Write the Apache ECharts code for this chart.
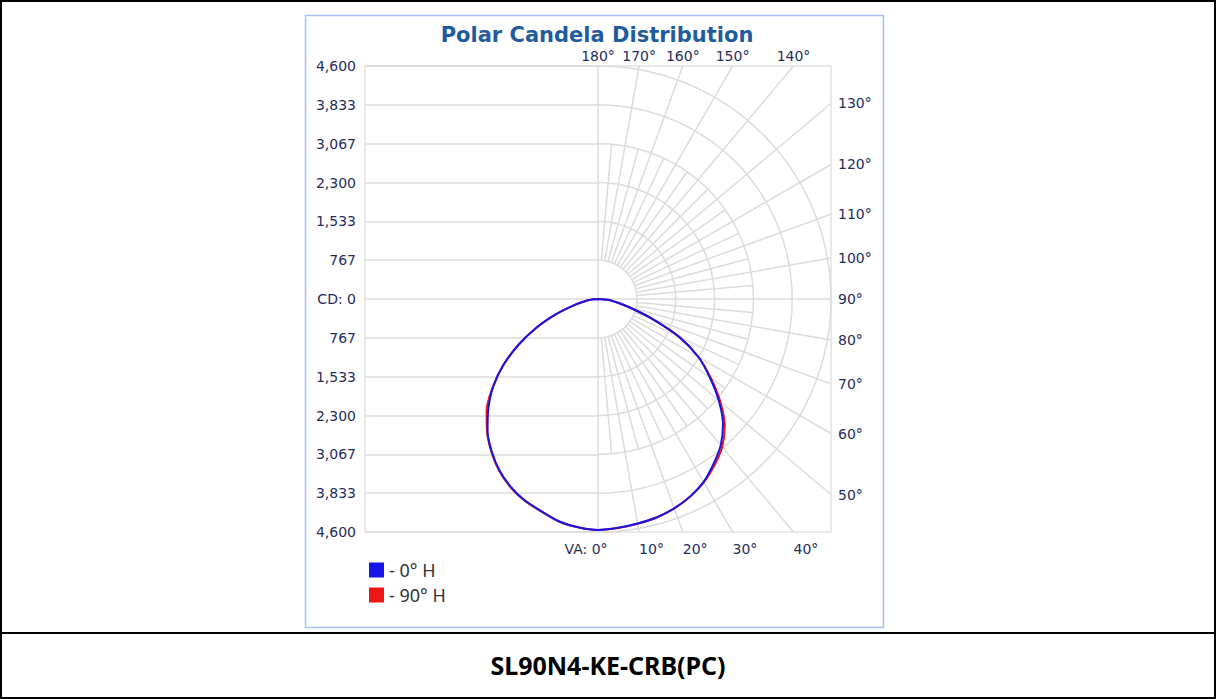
<!DOCTYPE html>
<html>
<head>
<meta charset="utf-8">
<title>Polar Candela Distribution</title>
<script src="https://cdn.jsdelivr.net/npm/echarts@6/dist/echarts.min.js"></script>
<style>
  html, body { margin: 0; padding: 0; background: #fff; }
  #frame { position: absolute; left: 0; top: 0; width: 1212px; height: 695px; border: 2px solid #000; }
  #sep { position: absolute; left: 0; top: 632px; width: 1216px; height: 2px; background: #000; }
  #footer { position: absolute; left: 0; top: 634px; width: 1216px; height: 63px;
            font: bold 25px "Noto Sans", sans-serif; line-height: 62px;
            text-align: center; color: #000; }
  #chart { position: absolute; left: 0; top: 0; width: 1216px; height: 632px; }
</style>
</head>
<body>
<div id="frame"></div>
<div id="sep"></div>
<div id="footer">SL90N4-KE-CRB(PC)</div>
<div id="chart"></div>
<script>
  // candela scale (left axis) and polar grid
  const cdMax = 4600;
  const cdTickLabels = ['4,600', '3,833', '3,067', '2,300', '1,533', '767', 'CD: 0',
                        '767', '1,533', '2,300', '3,067', '3,833', '4,600'];
  const ringValues = [767, 1533, 2300, 3067, 3833, 4600];
  const spokeAngles = [0, 5, 10, 15, 20, 25, 30, 35, 40, 45, 50, 55, 60, 65, 70, 75, 80, 85, 90,
                       95, 100, 105, 110, 115, 120, 125, 130, 135, 140, 145, 150, 155, 160, 165, 170, 175, 180];
  const topLabelAngles = [180, 170, 160, 150, 140];
  const rightLabelAngles = [130, 120, 110, 100, 90, 80, 70, 60, 50];
  const bottomLabelAngles = [10, 20, 30, 40];

  // vertical angles of the measured candela values
  const vAngles = [0, 5, 10, 15, 20, 25, 30, 35, 40, 45, 50, 55, 60, 65, 70, 75, 80, 85, 90];
  // 0° H plane (right) and its opposite plane (left)
  const cd0Right  = [4560, 4535, 4500, 4465, 4400, 4305, 4170, 3975, 3770, 3490, 3110, 2690, 2290, 1770, 1130, 650, 370, 220, 0];
  const cd0Left   = [4560, 4525, 4455, 4335, 4230, 4085, 3898, 3663, 3392, 3061, 2705, 2283, 1816, 1343, 890, 520, 280, 120, 0];
  // 90° H plane (right) and its opposite plane (left)
  const cd90Right = [4560, 4540, 4505, 4465, 4400, 4300, 4180, 4010, 3815, 3540, 3150, 2720, 2290, 1760, 1130, 650, 370, 220, 0];
  const cd90Left  = [4560, 4525, 4460, 4340, 4240, 4095, 3910, 3675, 3410, 3110, 2715, 2290, 1816, 1343, 890, 520, 280, 120, 0];

  const rad = Math.PI / 180;
  const labelColor = '#1f2d5c';
  const gridColor = '#dcdcdc';

  function toXY(angle, cd, side) {
    return [side * cd * Math.sin(angle * rad), -cd * Math.cos(angle * rad)];
  }

  function curve(left, right) {
    const pts = [];
    for (let i = vAngles.length - 1; i >= 0; i--) pts.push(toXY(vAngles[i], left[i], -1));
    for (let i = 1; i < vAngles.length; i++) pts.push(toXY(vAngles[i], right[i], 1));
    return pts;
  }

  // polar grid on the right half: 10° spokes run to the box edge,
  // the 5° ones in between stop at the fourth ring
  const spokes = spokeAngles.map(function (a) {
    const s = Math.abs(Math.sin(a * rad)), c = Math.abs(Math.cos(a * rad));
    const edge = a % 10 === 0 ? cdMax / Math.max(s, c) : ringValues[3];
    const start = (a % 90 === 0) ? 0 : ringValues[0];
    return { coords: [toXY(a, start, 1), toXY(a, edge, 1)] };
  });
  const rings = ringValues.map(function (r) {
    const coords = [];
    for (let a = 0; a <= 180; a += 2) coords.push(toXY(a, r, 1));
    return { coords: coords };
  });

  const box = { left: 365, top: 66, width: 466, height: 466 };
  const labelFont = { color: labelColor, fontSize: 14, fontFamily: 'DejaVu Sans' };

  const myChart = echarts.init(document.getElementById('chart'), null, { renderer: 'svg' });

  const option = {
    animation: false,
    title: {
      text: 'Polar Candela Distribution',
      left: 592,
      textAlign: 'center',
      top: 19,
      textStyle: { color: '#1f5c9e', fontSize: 21, fontWeight: 'bold', fontFamily: 'DejaVu Sans' }
    },
    graphic: [{
      type: 'rect',
      shape: { x: 305.5, y: 15.5, width: 578, height: 612 },
      style: { fill: 'none', stroke: '#a6c2ef', lineWidth: 1.5 },
      silent: true
    }],
    legend: {
      data: ['0° H', '90° H'],
      left: 364,
      top: 556,
      orient: 'vertical',
      icon: 'rect',
      itemWidth: 15,
      itemHeight: 15,
      itemGap: 7,
      formatter: function (name) { return '- ' + name; },
      textStyle: { color: '#333', fontSize: 18, fontFamily: 'Noto Sans' }
    },
    grid: [
      Object.assign({ show: true, borderColor: '#d4d4d4', borderWidth: 1 }, box),
      { left: box.left, top: box.top, width: box.width / 2, height: box.height, show: false }
    ],
    xAxis: [
      { gridIndex: 0, type: 'value', min: -cdMax, max: cdMax, show: false },
      { // top angle labels
        gridIndex: 0, type: 'value', position: 'top', min: -cdMax, max: cdMax,
        axisLine: { show: false }, axisTick: { show: false }, splitLine: { show: false },
        axisLabel: Object.assign({
          margin: 3,
          customValues: topLabelAngles.map(function (a) { return -cdMax * Math.tan(a * rad); }),
          formatter: function (v) { return Math.round(180 - Math.atan(v / cdMax) / rad) + '°'; }
        }, labelFont)
      },
      { // bottom angle labels
        gridIndex: 0, type: 'value', position: 'bottom', min: -cdMax, max: cdMax,
        axisLine: { show: false }, axisTick: { show: false }, splitLine: { show: false },
        axisLabel: Object.assign({
          margin: 10, align: 'left',
          customValues: bottomLabelAngles.map(function (a) { return cdMax * Math.tan(a * rad); }),
          formatter: function (v) { return Math.round(Math.atan(v / cdMax) / rad) + '°'; }
        }, labelFont)
      },
      { // VA: 0° label
        gridIndex: 0, type: 'value', position: 'bottom', min: -cdMax, max: cdMax,
        axisLine: { show: false }, axisTick: { show: false }, splitLine: { show: false },
        axisLabel: Object.assign({
          margin: 10,
          customValues: [0],
          formatter: function () { return '{t|VA: 0°}{pad| }'; },
          rich: {
            t: { color: labelColor, fontSize: 14, fontFamily: 'DejaVu Sans' },
            pad: { width: 24 }
          }
        }, labelFont)
      },
      { gridIndex: 1, type: 'value', min: 0, max: 1, show: false }
    ],
    yAxis: [
      { gridIndex: 0, type: 'value', min: -cdMax, max: cdMax, show: false },
      { // right angle labels
        gridIndex: 0, type: 'value', position: 'right', min: -cdMax, max: cdMax,
        axisLine: { show: false }, axisTick: { show: false }, splitLine: { show: false },
        axisLabel: Object.assign({
          margin: 7,
          customValues: rightLabelAngles.map(function (a) { return -cdMax / Math.tan(a * rad); }),
          formatter: function (v) { return Math.round(90 + Math.atan(v / cdMax) / rad) + '°'; }
        }, labelFont)
      },
      { // candela scale, left half
        gridIndex: 1, type: 'value', min: -cdMax, max: cdMax, interval: cdMax / 6,
        axisLine: { show: false }, axisTick: { show: false },
        splitLine: { show: true, lineStyle: { color: gridColor, width: 1.5 } },
        axisLabel: Object.assign({
          margin: 9,
          formatter: function (v, i) { return cdTickLabels[cdTickLabels.length - 1 - i]; }
        }, labelFont)
      }
    ],
    series: [
      {
        type: 'lines', coordinateSystem: 'cartesian2d', xAxisIndex: 0, yAxisIndex: 0,
        polyline: true, silent: true, z: 1,
        lineStyle: { color: gridColor, width: 1.5, opacity: 1 },
        data: spokes.concat(rings)
      },
      {
        name: '90° H', type: 'line', xAxisIndex: 0, yAxisIndex: 0,
        showSymbol: false, smooth: 0.3, z: 3, color: '#ee1515',
        lineStyle: { width: 2 },
        data: curve(cd90Left, cd90Right)
      },
      {
        name: '0° H', type: 'line', xAxisIndex: 0, yAxisIndex: 0,
        showSymbol: false, smooth: 0.3, z: 4, color: '#1515e8',
        lineStyle: { width: 2 },
        data: curve(cd0Left, cd0Right)
      }
    ]
  };

  option && myChart.setOption(option);
</script>
</body>
</html>
